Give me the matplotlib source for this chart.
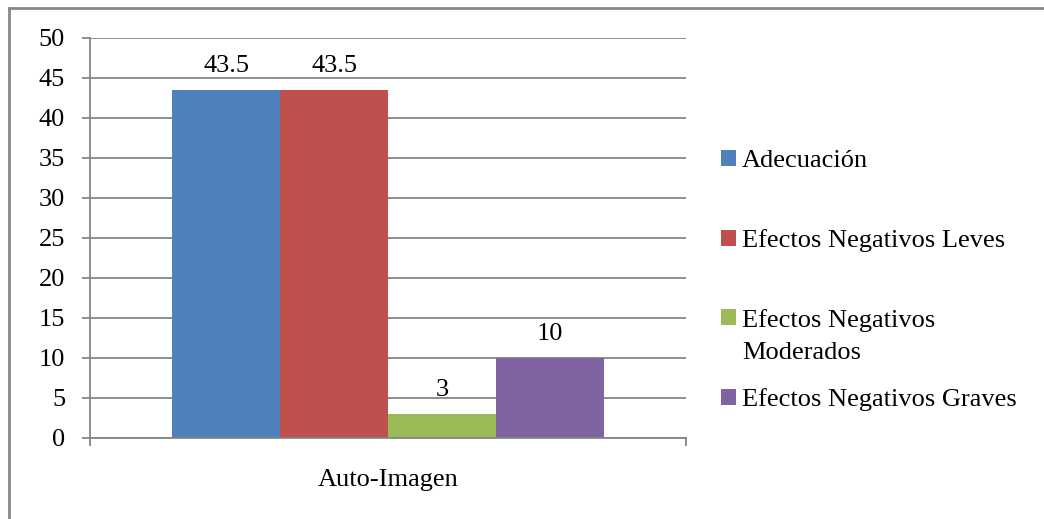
import matplotlib
matplotlib.use("Agg")
from matplotlib import pyplot as plt
from matplotlib.lines import Line2D
import numpy as np

# data
category = "Auto-Imagen"
series = ["Adecuación", "Efectos Negativos Leves", "Efectos Negativos", "Efectos Negativos Graves"]
values = [43.5, 43.5, 3, 10]
colors = ["#4F81BD", "#C0504D", "#9BBB59", "#8064A2"]
yticks = [0, 5, 10, 15, 20, 25, 30, 35, 40, 45, 50]

plt.rcParams['font.family'] = ['Liberation Serif', 'DejaVu Serif']
FS = 19
GRID = "#868686"

W, H = 1044, 519
fig = plt.figure(figsize=(W / 100, H / 100), dpi=100)
ax = fig.add_axes([90 / W, 1 - 438 / H, (686 - 90) / W, (438 - 37.5) / H])

# bars
bw = 108 / 596
for i, (name, v, c) in enumerate(zip(series, values, colors)):
    ax.bar((i - 1.5) * bw, v, width=bw, color=c, label=name, zorder=3)
    ax.annotate(f"{v:g}", xy=((i - 1.5) * bw, v), xytext=(0, 9),
                textcoords="offset points", ha="center", va="bottom", fontsize=FS)

ax.set_xlim(-0.5, 0.5)
ax.set_ylim(0, 50)
ax.set_yticks(yticks)
ax.yaxis.grid(True, color=GRID, linewidth=1.3, zorder=0)
ax.tick_params(axis="y", labelsize=FS, length=6, width=1.3, color=GRID, pad=12)

ax.set_xticks([0])
ax.set_xticklabels([category])
ax.set_xticks([-0.5, 0.5], minor=True)
ax.tick_params(axis="x", which="major", length=0, labelsize=FS, pad=22)
ax.tick_params(axis="x", which="minor", length=6, width=1.3, color=GRID)

for s in ["top", "right"]:
    ax.spines[s].set_visible(False)
for s in ["left", "bottom"]:
    ax.spines[s].set_color(GRID)
    ax.spines[s].set_linewidth(1.3)
    ax.spines[s].set_zorder(4)

# legend
leg = fig.legend(loc="upper left", bbox_to_anchor=(721 / W, 1 - 150 / H),
                 frameon=False, fontsize=FS, handlelength=0.55, handleheight=0.55,
                 handletextpad=0.25, labelspacing=2.15, borderpad=0, borderaxespad=0)

# second line of the wrapped legend label
fig.canvas.draw()
t = leg.get_texts()[2]
bb = t.get_window_extent()
fig.text(bb.x0 / W, (bb.y0 - 32) / H, "Moderados", fontsize=FS, ha="left", va="bottom")

# outer frame (left and top edges)
fig.add_artist(Line2D([9 / W, 9 / W], [0, 1 - 7.5 / H], transform=fig.transFigure, color="#888888", linewidth=2))
fig.add_artist(Line2D([9 / W, 1], [1 - 7.5 / H, 1 - 7.5 / H], transform=fig.transFigure, color="#888888", linewidth=2))

plt.savefig("out.png", dpi=100)
plt.close()
